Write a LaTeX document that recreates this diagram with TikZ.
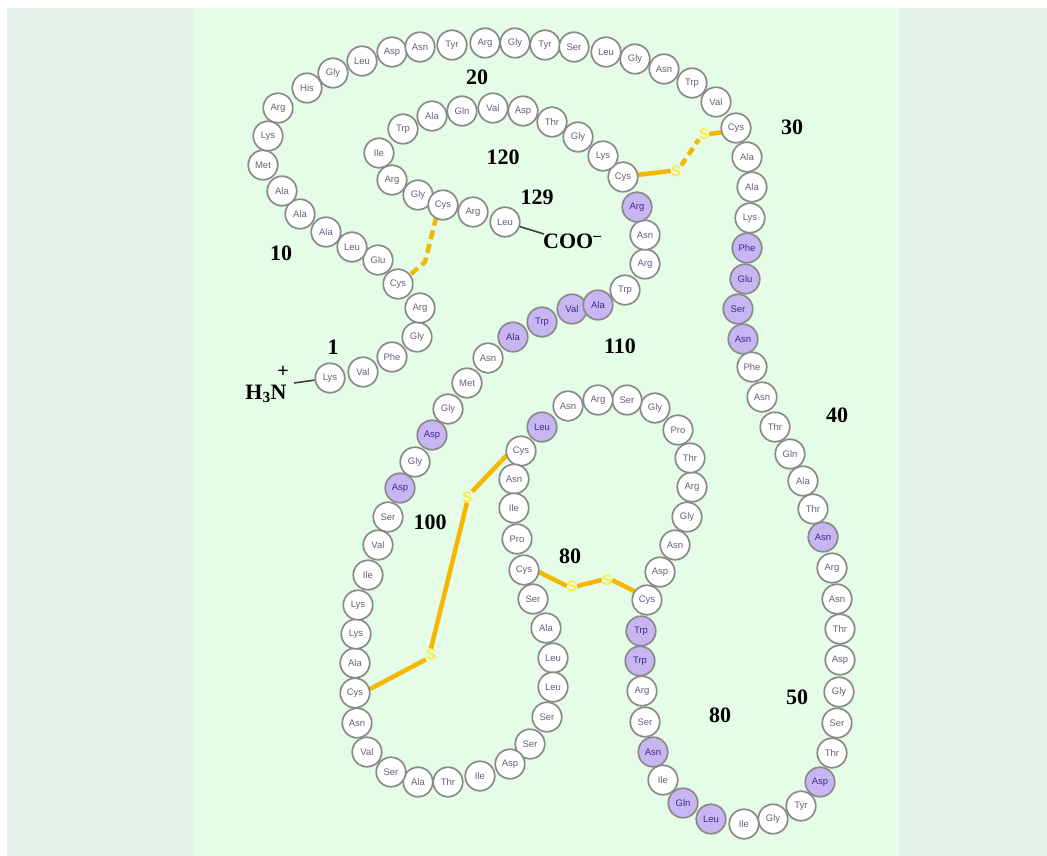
\documentclass[tikz,border=0pt]{standalone}
\usepackage{fontspec}
\setmainfont{Liberation Serif}
\setsansfont{Liberation Sans}
\definecolor{outerbg}{HTML}{E3F1E8}
\definecolor{panelbg}{HTML}{E5FCE7}
\definecolor{ringgray}{HTML}{8A8A8A}
\definecolor{restext}{HTML}{6B5E7E}
\definecolor{purfill}{HTML}{C8B6F2}
\definecolor{purtext}{HTML}{3B2C8C}
\definecolor{ssline}{HTML}{F4B800}
\definecolor{sstext}{HTML}{FFEA40}
\colorlet{fw}{white}
\colorlet{fp}{purfill}
\colorlet{tw}{restext}
\colorlet{tp}{purtext}
\begin{document}
\begin{tikzpicture}[x=1pt,y=-1pt,
 res/.style={circle, draw=ringgray, line width=1.7pt, minimum size=29.5pt, inner sep=0pt, font=\sffamily\fontsize{9.5}{9.5}\selectfont},
 num/.style={font=\bfseries\fontsize{22}{22}\selectfont, inner sep=0pt},
 ssbond/.style={draw=ssline, line width=4.5pt},
 sslbl/.style={text=sstext, font=\sffamily\bfseries\fontsize{15}{15}\selectfont, inner sep=0pt},
 term/.style={draw=black!75, line width=1.6pt}
]
\useasboundingbox (0,0) rectangle (1047,856);
\fill[white] (0,0) rectangle (1047,856);
\fill[outerbg] (7,8) rectangle (1047,856);
\fill[panelbg] (194,8) rectangle (899,856);

% disulfide bridges (beneath residues)
\coordinate (b6a) at (411,274);
\coordinate (b6b) at (425,262);
\coordinate (b6c) at (437,214);
\draw[ssbond, dash pattern=on 9pt off 5pt] (b6a) -- (b6b) -- (b6c);

\node[sslbl] (s30a) at (676,171) {S};
\node[sslbl] (s30b) at (704,134) {S};
\coordinate (c115) at (636,175);
\coordinate (c30) at (724,132);
\draw[ssbond] (c115) -- (s30a.west);
\draw[ssbond, dash pattern=on 8pt off 5pt] (s30a.north east) -- (s30b.south west);
\draw[ssbond] (s30b.east) -- (c30);

\node[sslbl] (s64a) at (572,586) {S};
\node[sslbl] (s64b) at (607,580) {S};
\coordinate (c80) at (539,572);
\coordinate (c64) at (636,592);
\draw[ssbond] (c80) -- (s64a.west);
\draw[ssbond] (s64a.east) -- (s64b.west);
\draw[ssbond] (s64b.east) -- (c64);

\node[sslbl] (s76a) at (467,497) {S};
\node[sslbl] (s94a) at (431,654) {S};
\coordinate (c76) at (507,455);
\coordinate (c94) at (370,689);
\draw[ssbond] (c76) -- (s76a.north east);
\draw[ssbond] (s76a.south) -- (s94a.north);
\draw[ssbond] (s94a.south west) -- (c94);

% residues
\foreach \i/\x/\y/\t/\s in {
1/330/378/Lys/w, 2/363/372/Val/w, 3/392/357/Phe/w, 4/417/337/Gly/w, 5/420/308/Arg/w,
6/398/284/Cys/w, 7/378/260/Glu/w, 8/352/247/Leu/w, 9/326/232/Ala/w, 10/300/214/Ala/w,
11/282/191/Ala/w, 12/263/165/Met/w, 13/268/136/Lys/w, 14/278/108/Arg/w, 15/307/88/His/w,
16/333/73/Gly/w, 17/362/61/Leu/w, 18/392/52/Asp/w, 19/420/47/Asn/w, 20/452/45/Tyr/w,
21/485/43/Arg/w, 22/515/43/Gly/w, 23/545/45/Tyr/w, 24/574/47/Ser/w, 25/606/52/Leu/w,
26/635/59/Gly/w, 27/664/69/Asn/w, 28/692/83/Trp/w, 29/716/102/Val/w, 30/736/128/Cys/w,
31/747/157/Ala/w, 32/752/187/Ala/w, 33/750/218/Lys/w, 34/747/248/Phe/p, 35/745/279/Glu/p,
36/738/309/Ser/p, 37/743/339/Asn/p, 38/752/367/Phe/w, 39/762/397/Asn/w, 40/775/427/Thr/w,
41/790/454/Gln/w, 42/803/481/Ala/w, 43/813/509/Thr/w, 44/823/537/Asn/p, 45/832/568/Arg/w,
46/837/599/Asn/w, 47/840/629/Thr/w, 48/840/660/Asp/w, 49/839/692/Gly/w, 50/837/723/Ser/w,
51/832/753/Thr/w, 52/820/782/Asp/p, 53/801/806/Tyr/w, 54/773/819/Gly/w, 55/744/824/Ile/w,
56/711/819/Leu/p, 57/683/803/Gln/p, 58/663/780/Ile/w, 59/653/752/Asn/p, 60/645/722/Ser/w,
61/642/691/Arg/w, 62/640/661/Trp/p, 63/641/631/Trp/p, 64/647/600/Cys/w, 65/660/572/Asp/w,
66/675/545/Asn/w, 67/687/517/Gly/w, 68/692/487/Arg/w, 69/690/458/Thr/w, 70/678/430/Pro/w,
71/655/408/Gly/w, 72/627/400/Ser/w, 73/598/400/Arg/w, 74/568/406/Asn/w, 75/542/427/Leu/p,
76/521/451/Cys/w, 77/514/479/Asn/w, 78/514/508/Ile/w, 79/517/539/Pro/w, 80/524/570/Cys/w,
81/533/599/Ser/w, 82/546/628/Ala/w, 83/553/658/Leu/w, 84/553/687/Leu/w, 85/547/717/Ser/w,
86/530/744/Ser/w, 87/510/764/Asp/w, 88/480/776/Ile/w, 89/448/782/Thr/w, 90/418/782/Ala/w,
91/391/772/Ser/w, 92/367/752/Val/w, 93/357/723/Asn/w, 94/355/693/Cys/w, 95/355/663/Ala/w,
96/356/634/Lys/w, 97/358/605/Lys/w, 98/368/575/Ile/w, 99/378/545/Val/w, 100/388/517/Ser/w,
101/400/488/Asp/p, 102/415/462/Gly/w, 103/432/435/Asp/p, 104/448/409/Gly/w, 105/467/383/Met/w,
106/488/358/Asn/w, 107/513/337/Ala/p, 108/542/322/Trp/p, 109/572/309/Val/p, 110/598/305/Ala/p,
111/625/290/Trp/w, 112/645/264/Arg/w, 113/645/235/Asn/w, 114/637/207/Arg/p, 115/623/177/Cys/w,
116/603/156/Lys/w, 117/578/137/Gly/w, 118/552/122/Thr/w, 119/523/111/Asp/w, 120/493/108/Val/w,
121/462/111/Gln/w, 122/432/116/Ala/w, 123/403/129/Trp/w, 124/379/153/Ile/w, 125/392/180/Arg/w,
126/418/195/Gly/w, 127/443/205/Cys/w, 128/473/212/Arg/w, 129/505/222/Leu/w}
{\node[res, fill=f\s, text=t\s] (r\i) at (\x,\y) {\t};}

% termini
\node[num] (h3n) at (266,394) {H\textsubscript{3}N};
\node[num, font=\bfseries\fontsize{20}{20}\selectfont] (plus) at (283,372) {+};
\coordinate (nt) at (294,383);
\draw[term] (nt) -- (r1);
\node[num, anchor=west] (coo) at (543,241) {COO\textsuperscript{–}};
\coordinate (ct) at (544,234);
\draw[term] (r129) -- (ct);

% numbers
\node[num] (n1) at (333,347) {1};
\node[num] (n10) at (281,253) {10};
\node[num] (n20) at (477,77) {20};
\node[num] (n30) at (792,127) {30};
\node[num] (n40) at (837,415) {40};
\node[num] (n50) at (797,697) {50};
\node[num] (n80b) at (720,715) {80};
\node[num] (n80) at (570,556) {80};
\node[num] (n100) at (430,522) {100};
\node[num] (n110) at (620,346) {110};
\node[num] (n120) at (503,157) {120};
\node[num] (n129) at (537,197) {129};
\end{tikzpicture}
\end{document}
